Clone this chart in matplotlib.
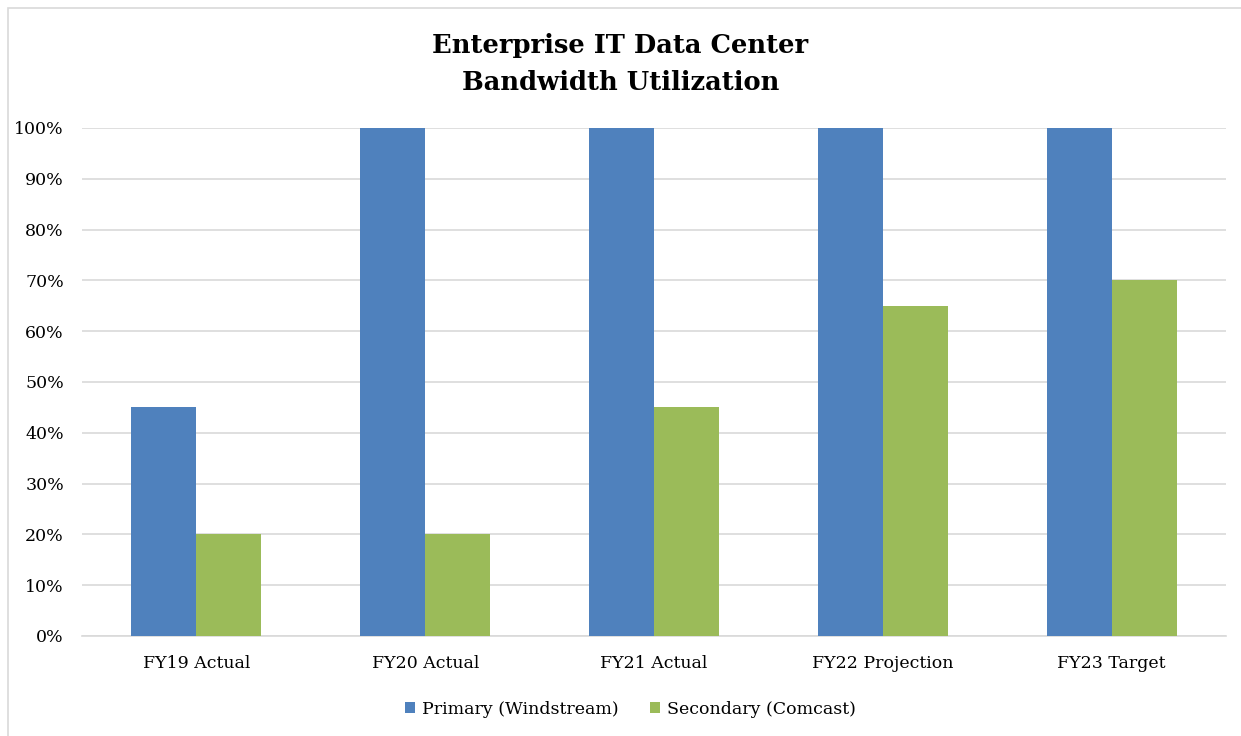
import numpy as np
import matplotlib.pyplot as plt
from matplotlib.patches import Rectangle

categories = ['FY19 Actual', 'FY20 Actual', 'FY21 Actual', 'FY22 Projection', 'FY23 Target']
primary = [45, 100, 100, 100, 100]
secondary = [20, 20, 45, 65, 70]
series_names = ['Primary (Windstream)', 'Secondary (Comcast)']
yticks = list(range(0, 101, 10))

plt.rcParams['font.family'] = ['DejaVu Serif']

fig = plt.figure(figsize=(12.41, 7.36), dpi=100)
# light chart-area border (right/bottom edges fall outside the crop)
fig.patches.append(Rectangle((8/1241, -0.01), 1.05, 1 - 8/736 + 0.01, transform=fig.transFigure,
                             fill=False, edgecolor='#d9d9d9', linewidth=1.2))
ax = fig.add_axes([82/1241, 1 - 636/736, 1144/1241, 508/736])

x = np.arange(len(categories))
w = 0.284
ax.bar(x - w/2, primary, w, color='#4f81bd', label=series_names[0], zorder=3)
ax.bar(x + w/2, secondary, w, color='#9bbb59', label=series_names[1], zorder=3)

ax.set_xlim(-0.5, len(categories) - 0.5)
ax.set_ylim(0, 100)
ax.set_yticks(yticks)
ax.set_yticklabels([f'{v}%' for v in yticks], fontsize=12.5)
ax.set_xticks(x)
ax.set_xticklabels(categories, fontsize=12.5)
ax.tick_params(length=0)
ax.tick_params(axis='x', pad=14)
ax.tick_params(axis='y', pad=13)
ax.grid(axis='y', color='#d9d9d9', linewidth=1.2, zorder=0)
for s in ['top', 'right', 'left']:
    ax.spines[s].set_visible(False)
ax.spines['bottom'].set_color('#d9d9d9')
ax.spines['bottom'].set_linewidth(1.2)

fig.text(0.5, 1 - 64/736, 'Enterprise IT Data Center\nBandwidth Utilization', ha='center', va='center',
         fontsize=18.5, fontweight='bold', linespacing=1.55)

fig.legend(loc='center', bbox_to_anchor=(0.508, 1 - 709/736), ncol=2, frameon=False, fontsize=12.5,
           handlelength=0.6, handleheight=0.6, handletextpad=0.4, columnspacing=1.8)

fig.savefig('out.png', dpi=100)
